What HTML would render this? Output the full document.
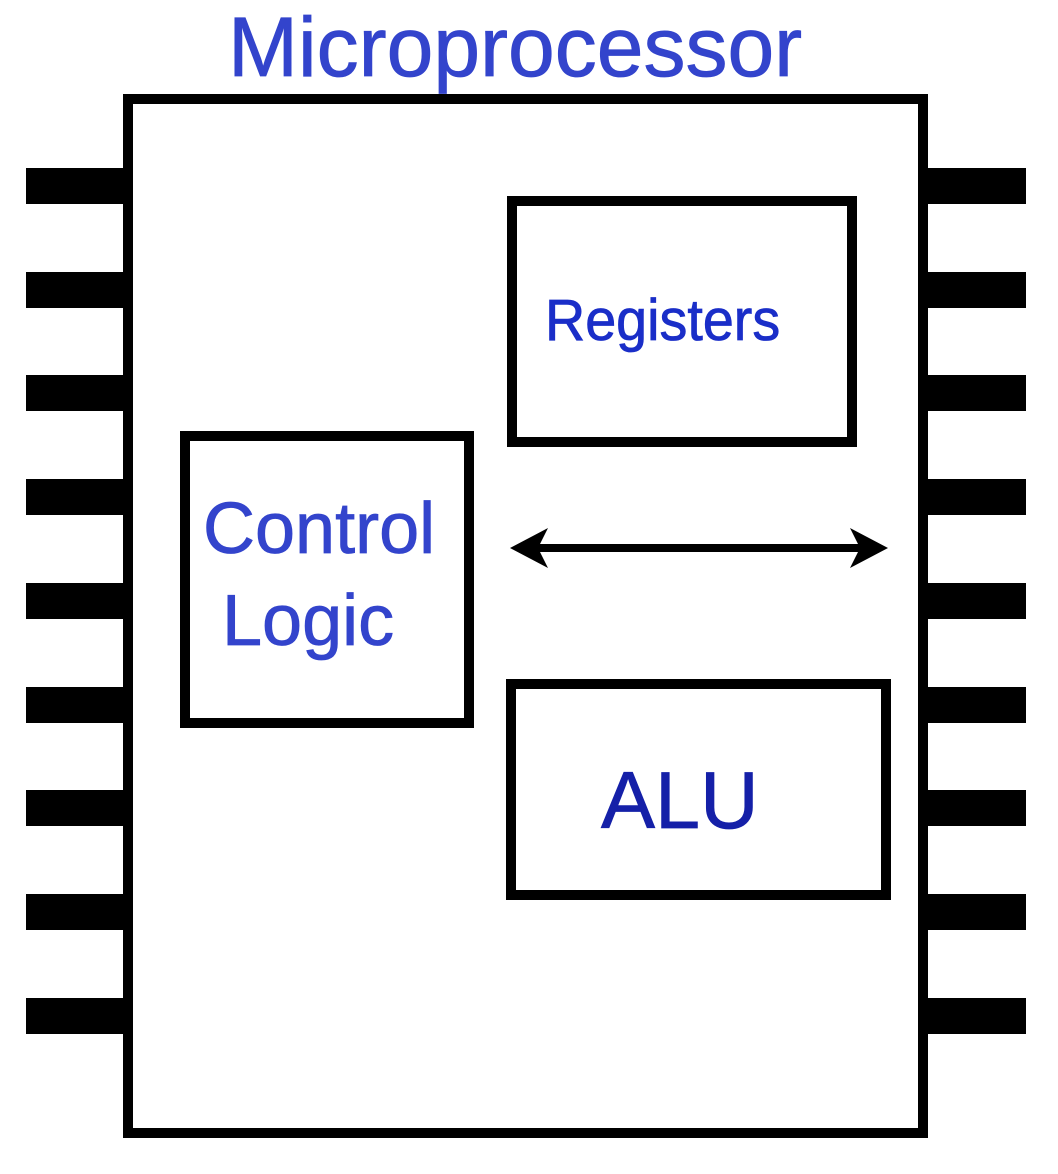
<!DOCTYPE html>
<html><head><style>
body{margin:0;width:1058px;height:1174px;background:#fff;overflow:hidden;position:relative;font-family:"Liberation Sans",sans-serif}
.b{position:absolute;box-sizing:border-box;border:10px solid #000}
.p{position:absolute;background:#000;height:36px}
.t{position:absolute;white-space:nowrap;line-height:1;-webkit-text-stroke:0.8px currentColor}
</style></head><body>
<div class="t" style="left:228px;top:5px;font-size:84px;color:#3344cc;">Microprocessor</div>
<div class="b" style="left:123px;top:94px;width:805px;height:1044px"></div>
<div class="p" style="left:26px;top:168px;width:100px"></div>
<div class="p" style="left:26px;top:272px;width:100px"></div>
<div class="p" style="left:26px;top:375px;width:100px"></div>
<div class="p" style="left:26px;top:479px;width:100px"></div>
<div class="p" style="left:26px;top:583px;width:100px"></div>
<div class="p" style="left:26px;top:687px;width:100px"></div>
<div class="p" style="left:26px;top:790px;width:100px"></div>
<div class="p" style="left:26px;top:894px;width:100px"></div>
<div class="p" style="left:26px;top:998px;width:100px"></div>
<div class="p" style="left:925px;top:168px;width:101px"></div>
<div class="p" style="left:925px;top:272px;width:101px"></div>
<div class="p" style="left:925px;top:375px;width:101px"></div>
<div class="p" style="left:925px;top:479px;width:101px"></div>
<div class="p" style="left:925px;top:583px;width:101px"></div>
<div class="p" style="left:925px;top:687px;width:101px"></div>
<div class="p" style="left:925px;top:790px;width:101px"></div>
<div class="p" style="left:925px;top:894px;width:101px"></div>
<div class="p" style="left:925px;top:998px;width:101px"></div>
<div class="b" style="left:507px;top:196px;width:350px;height:251px"></div>
<div class="b" style="left:180px;top:431px;width:294px;height:297px"></div>
<div class="b" style="left:506px;top:679px;width:385px;height:221px"></div>
<div class="t" style="left:545px;top:292px;font-size:58px;color:#1a2ec8;transform:scaleX(0.96);transform-origin:left">Registers</div>
<div class="t" style="left:203px;top:493px;font-size:72px;color:#3344cc;">Control</div>
<div class="t" style="left:222px;top:585px;font-size:72px;color:#3344cc;">Logic</div>
<div class="t" style="left:601px;top:761px;font-size:81px;color:#1520a8;">ALU</div>
<svg style="position:absolute;left:0;top:0" width="1058" height="1174">
<line x1="530" y1="548" x2="868" y2="548" stroke="#000" stroke-width="8"/>
<polygon points="510,548 548,528 538,548 548,568" fill="#000"/>
<polygon points="888,548 850,528 860,548 850,568" fill="#000"/>
</svg>
</body></html>
